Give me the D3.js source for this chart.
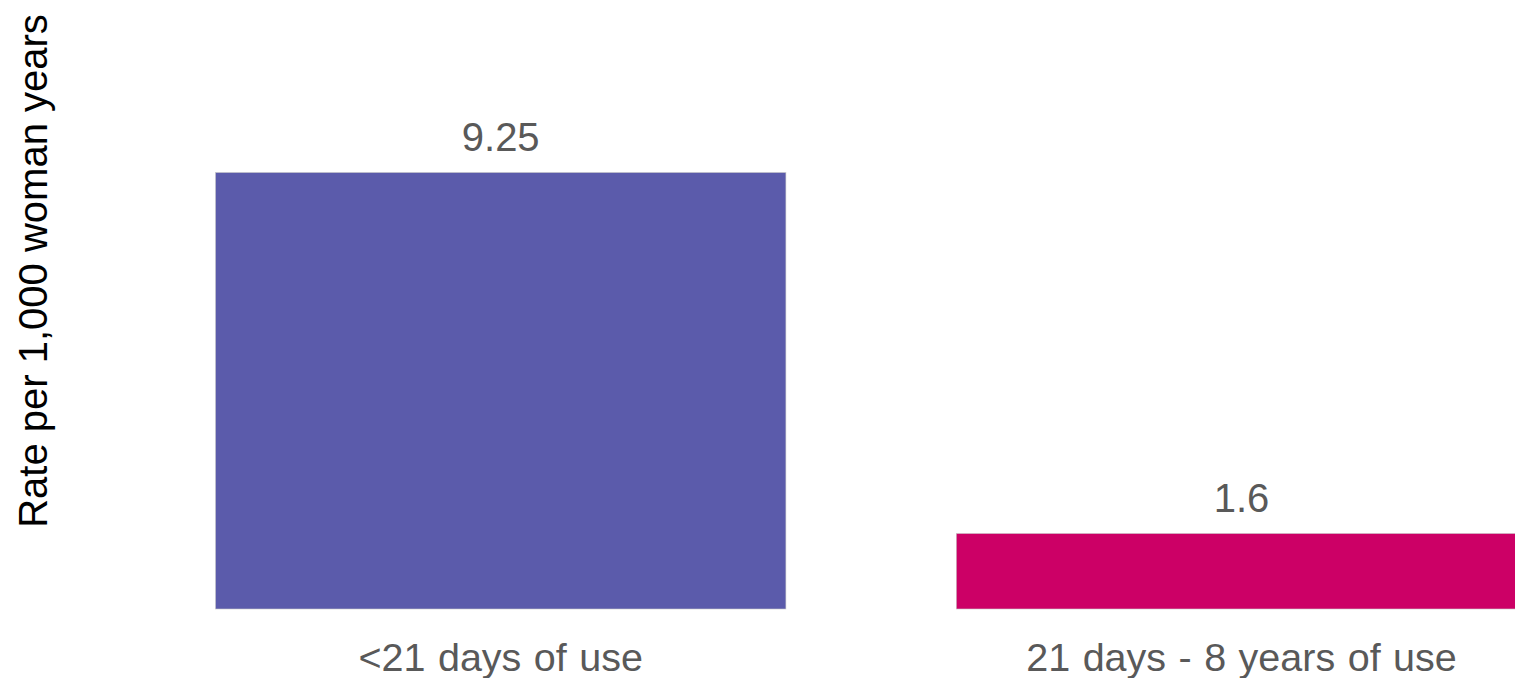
<!DOCTYPE html>
<html>
<head>
<meta charset="utf-8">
<script src="https://cdn.jsdelivr.net/npm/d3@7"></script>
<style>
  html, body { margin: 0; padding: 0; background: #fff; overflow: hidden; }
  svg { display: block; font-family: "Liberation Sans", Arial, sans-serif; }
</style>
</head>
<body>
<svg id="chart" width="1515" height="678"></svg>
<script>
// Incidence rate by duration of use
const categories = ["<21 days of use", "21 days - 8 years of use"];
const rates = [9.25, 1.6];
const valueLabels = ["9.25", "1.6"];
const barColors = ["#5B5BAB", "#CC0066"];
const yTitle = "Rate per 1,000 woman years";

const svg = d3.select("#chart");

const x = d3.scaleBand()
  .domain(categories)
  .range([130.3, 1611.9])
  .paddingInner(0.23)
  .paddingOuter(0.115);

const y = d3.scaleLinear()
  .domain([0, 10])
  .range([609, 137.1]);

// Bars
svg.append("g")
  .selectAll("rect")
  .data(categories)
  .join("rect")
  .attr("x", d => x(d))
  .attr("width", x.bandwidth())
  .attr("y", (d, i) => y(rates[i]))
  .attr("height", (d, i) => y(0) - y(rates[i]))
  .attr("fill", (d, i) => barColors[i])
  .attr("stroke", "#c8c8c8")
  .attr("stroke-width", 0.6);

// Value labels above bars
svg.append("g")
  .selectAll("text")
  .data(categories)
  .join("text")
  .attr("x", d => x(d) + x.bandwidth() / 2)
  .attr("y", (d, i) => y(rates[i]) - 21)
  .attr("text-anchor", "middle")
  .attr("font-size", 40)
  .attr("fill", "#595959")
  .text((d, i) => valueLabels[i]);

// Category axis labels
const xAxis = d3.axisBottom(x).tickSize(0).tickPadding(0);
const gx = svg.append("g")
  .attr("transform", `translate(0, ${y(0)})`)
  .call(xAxis);
gx.select(".domain").remove();
gx.selectAll("text")
  .attr("dy", 0)
  .attr("y", 62)
  .attr("font-size", 39.5)
  .attr("font-family", "\"Liberation Sans\", Arial, sans-serif")
  .attr("fill", "#595959")
  .style("word-spacing", "1.5px");

// Y axis title
svg.append("text")
  .attr("transform", "translate(47, 271) rotate(-90)")
  .attr("text-anchor", "middle")
  .attr("font-size", 40)
  .attr("fill", "#000")
  .text(yTitle);
</script>
</body>
</html>
